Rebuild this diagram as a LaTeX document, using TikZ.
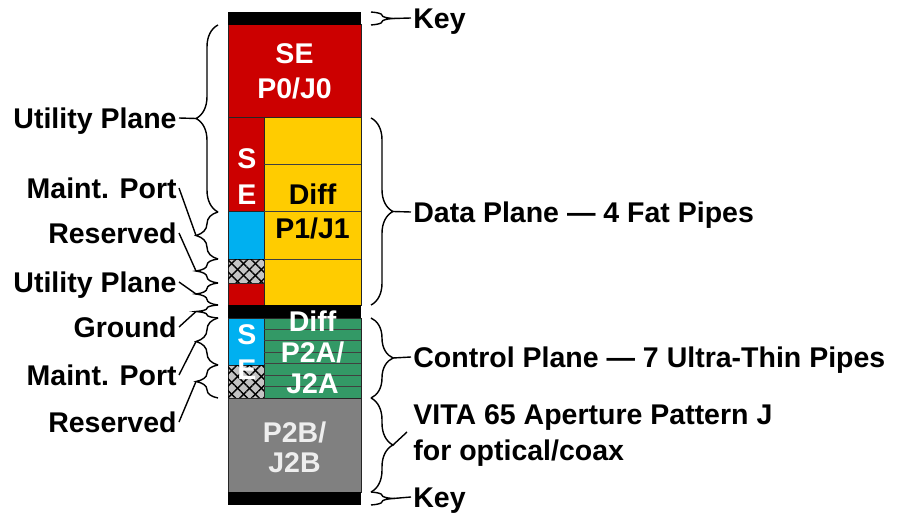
\documentclass[tikz,border=0pt]{standalone}
\usepackage{fontspec}
\setmainfont{Liberation Sans}
\usetikzlibrary{decorations.pathreplacing, patterns.meta, calc}
\definecolor{sered}{RGB}{204,0,0}
\definecolor{diffyellow}{RGB}{255,204,0}
\definecolor{maintblue}{RGB}{0,176,240}
\definecolor{ctrlgreen}{RGB}{51,153,102}
\definecolor{vitagray}{RGB}{128,128,128}
\definecolor{hatchgray}{RGB}{196,196,196}
\definecolor{paletext}{RGB}{238,238,238}
\newcommand{\lblfont}{\fontsize{14.25}{16}\selectfont\bfseries}
\tikzset{
  cell/.style={draw=black!85, line width=0.5pt},
  keybar/.style={fill=black},
  hatchcell/.style={cell, fill=hatchgray,
    postaction={pattern={Lines[angle=45, distance=4.2pt, line width=0.7pt]}},
    postaction={pattern={Lines[angle=-45, distance=4.2pt, line width=0.7pt]}}},
  rowline/.style={draw=black!75, line width=0.5pt},
  lbl/.style={font=\lblfont, inner sep=1pt, text height=10.2pt, text depth=0pt},
  lbleft/.style={lbl, anchor=east},
  lbright/.style={lbl, anchor=west},
  incell/.style={lbl, anchor=center, text=white},
  brace/.style={decorate, decoration={brace, amplitude=11pt}, line width=0.7pt},
  lead/.style={line width=0.7pt}
}

\begin{document}
\begin{tikzpicture}[x=0.5pt, y=-0.5pt]
  \useasboundingbox (0,0) rectangle (922,519);

  % ── Connector column ───────────────────────────────────────────────────────
  % P0/J0
  \filldraw[cell, fill=sered] (228,25) rectangle (361,118);
  % P1/J1: SE strip, maint. port, reserved, utility
  \filldraw[cell, fill=sered] (228,118) rectangle (264,212);
  \filldraw[cell, fill=maintblue] (228,212) rectangle (264,259);
  \filldraw[hatchcell] (228,259) rectangle (264,283);
  \filldraw[cell, fill=sered] (228,283) rectangle (264,305);
  \filldraw[cell, fill=diffyellow] (264,118) rectangle (361,305);
  \foreach \y in {165,212,259}
    \draw[rowline] (264,\y) -- (361,\y);
  % P2A/J2A
  \filldraw[cell, fill=maintblue] (228,318) rectangle (264,365);
  \filldraw[hatchcell] (228,365) rectangle (264,398);
  \filldraw[cell, fill=ctrlgreen] (264,318) rectangle (361,398);
  \foreach \k in {1,...,6}
    \draw[rowline] (264,318+80*\k/7) -- (361,318+80*\k/7);
  % P2B/J2B
  \filldraw[cell, fill=vitagray] (228,398) rectangle (361,492);
  % keys and ground
  \fill[keybar] (228,12) rectangle (361,25);
  \fill[keybar] (228,305) rectangle (361,318);
  \fill[keybar] (228,492) rectangle (361,505);

  % ── Texts inside the column ────────────────────────────────────────────────
  \node[incell] (p0se) at (294.5,53) {SE};
  \node[incell] (p0name) at (294.5,88) {P0/J0};
  \node[incell] (p1s) at (247,158) {S};
  \node[incell] (p1e) at (247,194) {E};
  \node[incell, text=black] (p1diff) at (312.5,194) {Diff};
  \node[incell, text=black] (p1name) at (312.5,228) {P1/J1};
  \node[incell] (p2adiff) at (312.5,321) {Diff};
  \node[incell] (p2aname) at (312.5,352) {P2A/};
  \node[incell] (p2aname2) at (312.5,383) {J2A};
  \node[incell] (p2as) at (247,334) {S};
  \node[incell] (p2ae) at (247,369) {E};
  \node[incell, text=paletext] (p2bname) at (294.5,432) {P2B/};
  \node[incell, text=paletext] (p2bname2) at (294.5,462) {J2B};

  % ── Right braces ───────────────────────────────────────────────────────────
  \draw[brace] (371,12) -- (371,25);
  \coordinate (keytop tip) at (393,18.5);
  \node[lbright] (keytop) at (411,18) {Key};
  \draw[lead] (keytop tip) -- (keytop.west);

  \draw[brace] (371,118) -- (371,305);
  \coordinate (data tip) at (393,211.5);
  \node[lbright] (data) at (411,212) {Data Plane — 4 Fat Pipes};
  \draw[lead] (data tip) -- (data.west);

  \draw[brace] (371,318) -- (371,398);
  \coordinate (ctrl tip) at (393,358);
  \node[lbright] (ctrl) at (411,357) {Control Plane — 7 Ultra-Thin Pipes};
  \draw[lead] (ctrl tip) -- (ctrl.west);

  \draw[brace] (371,398) -- (371,492);
  \coordinate (vita tip) at (393,445);
  \coordinate (vita end) at (407,432);
  \node[lbright] (vita) at (411,414) {VITA 65 Aperture Pattern J};
  \node[lbright] (vita2) at (411,450) {for optical/coax};
  \draw[lead] (vita tip) -- (vita end);

  \draw[brace] (371,492) -- (371,505);
  \coordinate (keybot tip) at (393,498.5);
  \node[lbright] (keybot) at (411,497) {Key};
  \draw[lead] (keybot tip) -- (keybot.west);

  % ── Left braces ────────────────────────────────────────────────────────────
  \draw[brace] (218,212) -- (218,25);
  \coordinate (util tip) at (196,118.5);
  \node[lbleft] (util) at (179,118) {Utility Plane};
  \draw[lead] (util.east) -- (util tip);

  \draw[brace] (218,259) -- (218,212);
  \coordinate (maint tip) at (196,235.5);
  \node[lbleft] (maint) at (179,188) {Maint. Port};
  \draw[lead] (maint.east) -- (maint tip);

  \draw[brace] (218,283) -- (218,259);
  \coordinate (res tip) at (196,271);
  \node[lbleft] (res) at (179,233) {Reserved};
  \draw[lead] (res.east) -- (res tip);

  \draw[brace] (218,305) -- (218,283);
  \coordinate (util2 tip) at (196,294);
  \node[lbleft] (util2) at (179,282) {Utility Plane};
  \draw[lead] (util2.east) -- (util2 tip);

  \draw[brace] (218,318) -- (218,305);
  \coordinate (gnd tip) at (196,311.5);
  \node[lbleft] (gnd) at (179,327) {Ground};
  \draw[lead] (gnd.east) -- (gnd tip);

  \draw[brace] (218,365) -- (218,318);
  \coordinate (maint2 tip) at (196,341.5);
  \node[lbleft] (maint2) at (179,375) {Maint. Port};
  \draw[lead] (maint2.east) -- (maint2 tip);

  \draw[brace] (218,398) -- (218,365);
  \coordinate (res2 tip) at (196,381.5);
  \node[lbleft] (res2) at (179,422) {Reserved};
  \draw[lead] (res2.east) -- (res2 tip);
\end{tikzpicture}
\end{document}
